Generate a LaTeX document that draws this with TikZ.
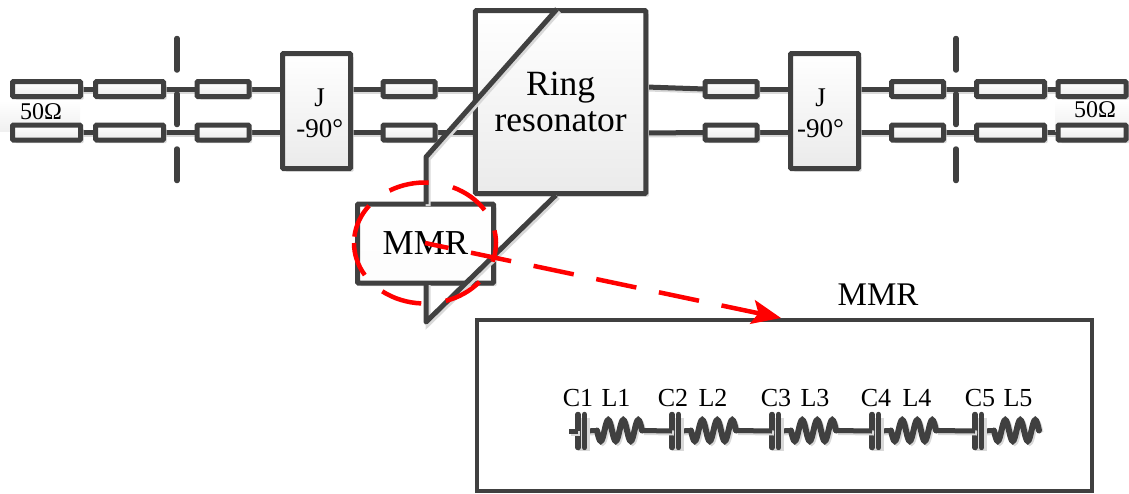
\documentclass[tikz,border=0pt]{standalone}
\usepackage{fontspec}
\setmainfont{Liberation Serif}
\usepackage{xcolor}
\usetikzlibrary{shapes.geometric, arrows.meta, positioning, calc, backgrounds}
\definecolor{linegray}{HTML}{404040}
\newcommand{\sized}[1]{\fontsize{#1}{#1}\selectfont}

\begin{document}
\begin{tikzpicture}[
    x=1pt, y=-1pt,
    every node/.style={text=black, inner sep=0pt, outer sep=0pt},
    wire/.style={draw=linegray, line width=5pt, preaction={draw=black!15, line width=5pt, transform canvas={shift={(2pt,-2pt)}}}},
    block/.style={rectangle, draw=linegray, line width=5pt, rounded corners=1pt, top color=white, bottom color=black!8, preaction={fill=black!15, transform canvas={shift={(3pt,-3pt)}}}},
    stub/.style={block, minimum height=15pt},
    shortstub/.style={stub, minimum width=52pt},
    longstub/.style={stub, minimum width=68pt},
    jblock/.style={block, minimum width=68pt, minimum height=115pt},
    jtext/.style={align=center, font=\sized{27}},
    ohm/.style={rectangle, top color=white, bottom color=black!6, minimum height=31pt},
    cut/.style={draw=linegray, line width=5.5pt, line cap=round},
    plate/.style={cut, line width=5.5pt, preaction={draw=black!15, line width=5.5pt, transform canvas={shift={(3pt,-3pt)}}}},
    redline/.style={draw=red, line width=4.5pt},
    lbl/.style={font=\sized{26}},
    coil/.pic={\draw[wire, line width=6pt, line cap=round] plot[smooth, domain=0:1080, samples=49] ({\x/24},{10.5*sin(\x)});}
]
\useasboundingbox (0,0) rectangle (1129,493);

% 50 ohm patches
\node[ohm, minimum width=80pt] (ohmL) at (40,116) {};
\node[ohm, minimum width=74pt] (ohmR) at (1092,116) {};
\node[font=\sized{24}] (ohmLtext) at (41,112) {50Ω};
\node[font=\sized{24}] (ohmRtext) at (1095,110) {50Ω};

% Left feed
\node[longstub] (a1) at (46.5,89) {};
\node[longstub] (a2) at (129.7,89) {};
\node[shortstub] (a3) at (223,89) {};
\node[longstub] (b1) at (46.5,132.5) {};
\node[longstub] (b2) at (129.7,132.5) {};
\node[shortstub] (b3) at (223,132.5) {};
\node[jblock] (jL) at (316.5,111) {};
\node[jtext] (jLtext) at (319.7,113) {J\\[4pt]-90°};
\node[shortstub] (a4) at (409,89) {};
\node[shortstub] (b4) at (409,132.5) {};

% Ring and MMR
\node[block, minimum width=170.5pt, minimum height=183pt, align=center, font=\sized{35.5}] (ring) at (560.7,102) {Ring\\[0pt]resonator};
\node[block, bottom color=black!1, minimum width=136pt, minimum height=79pt, font=\sized{35}] (mmr) at (425.5,243.5) {MMR};

% Right feed
\node[shortstub] (c4) at (731,89) {};
\node[shortstub] (d4) at (731,132.5) {};
\node[jblock] (jR) at (824.5,111) {};
\node[jtext] (jRtext) at (820.5,113) {J\\[4pt]-90°};
\node[shortstub] (c3) at (917.5,89) {};
\node[shortstub] (d3) at (917.5,132.5) {};
\node[longstub] (c2) at (1010.5,89) {};
\node[longstub] (d2) at (1010.5,132.5) {};
\node[longstub] (c1) at (1092,89) {};
\node[longstub] (d1) at (1092,132.5) {};

% Inset
\node[rectangle, draw=linegray, line width=4.5pt, minimum width=615pt, minimum height=171pt, fill=white] (inset) at (784.5,405.5) {};
\node[font=\sized{33}] (insetlabel) at (878,295) {MMR};

% Ports
\coordinate (ringLa) at ($(ring.west)+(0,-13)$);
\coordinate (ringLb) at ($(ring.west)+(0,30.5)$);
\coordinate (ringRa) at ($(ring.east)+(0,-15)$);
\coordinate (ringRb) at ($(ring.east)+(0,31)$);
\coordinate (ringtop) at (557,9);
\coordinate (ringbot) at (556,195);
\coordinate (bendT) at (426,157);
\coordinate (bendB) at (426,322);
\coordinate (tip) at (781,318);
\coordinate (zone) at (425,243);

% Wires
\begin{scope}[on background layer]
\foreach \p/\q in {a1/a2,a2/a3,b1/b2,b2/b3}
    \draw[wire] (\p) -- (\q);
\draw[wire] (a3.east) -- (a3.east -| jL.west);
\draw[wire] (b3.east) -- (b3.east -| jL.west);
\draw[wire] (a4.east) -- (ringLa);
\draw[wire] (b4.east) -- (ringLb);
\draw[wire] (a4.west) -- (a4.west -| jL.east);
\draw[wire] (b4.west) -- (b4.west -| jL.east);
\draw[wire] (ringRa) -- (c4.west);
\draw[wire] (ringRb) -- (d4.west);
\draw[wire] (c4.east) -- (c4.east -| jR.west);
\draw[wire] (d4.east) -- (d4.east -| jR.west);
\draw[wire] (c3.west) -- (c3.west -| jR.east);
\draw[wire] (d3.west) -- (d3.west -| jR.east);
\foreach \p/\q in {c3/c2,c2/c1,d3/d2,d2/d1}
    \draw[wire] (\p) -- (\q);
\end{scope}
\draw[wire, line join=round] (ringtop) -- (bendT) -- (bendT |- mmr.north);
\draw[wire, line join=round] (bendB |- mmr.south) -- (bendB) -- (ringbot);

% Cut marks
\foreach \x in {177,956} {
    \draw[cut] (\x,38.5) -- (\x,70);
    \draw[cut] (\x,94) -- (\x,124.5);
    \draw[cut] (\x,149) -- (\x,180.5);
}

% Red zoom mark
\foreach \a/\b in {240/273,293/327,348/378,400/433,93/127,148/180,186/218}
    \draw[redline] ($(zone)+(\a:71 and 60.5)$) arc[start angle=\a, end angle=\b, x radius=71, y radius=60.5];
\draw[redline, dash pattern=on 41pt off 23pt, dash phase=17pt, -{Stealth[length=29pt, width=24pt, inset=6pt]}] (zone) -- (tip);

% Inset circuit
\foreach \i/\cx/\lx/\clab/\llab in {1/578/597/578/616, 2/672/691/673/713, 3/772/791/776/815, 4/872/891/876/917, 5/975/994/980/1018} {
    \node[lbl] (C\i) at (\clab,398) {C\i};
    \node[lbl] (L\i) at (\llab,398) {L\i};
    \coordinate (pa\i) at (\cx,431);
    \coordinate (pb\i) at (\cx+6.5,431);
    \coordinate (ls\i) at (\lx,430.5);
    \coordinate (le\i) at (\lx+45,430.5);
    \draw[wire] (pb\i) -- (ls\i);
    \draw[plate] (\cx,414.5) -- (\cx,447.5);
    \draw[plate] (\cx+6.5,414.5) -- (\cx+6.5,447.5);
    \pic at (ls\i) {coil};
}
\coordinate (lead) at (569,431);
\draw[wire] (lead) -- (pa1);
\foreach \i/\j in {1/2,2/3,3/4,4/5}
    \draw[wire] (le\i) -- (pa\j);

\end{tikzpicture}
\end{document}
